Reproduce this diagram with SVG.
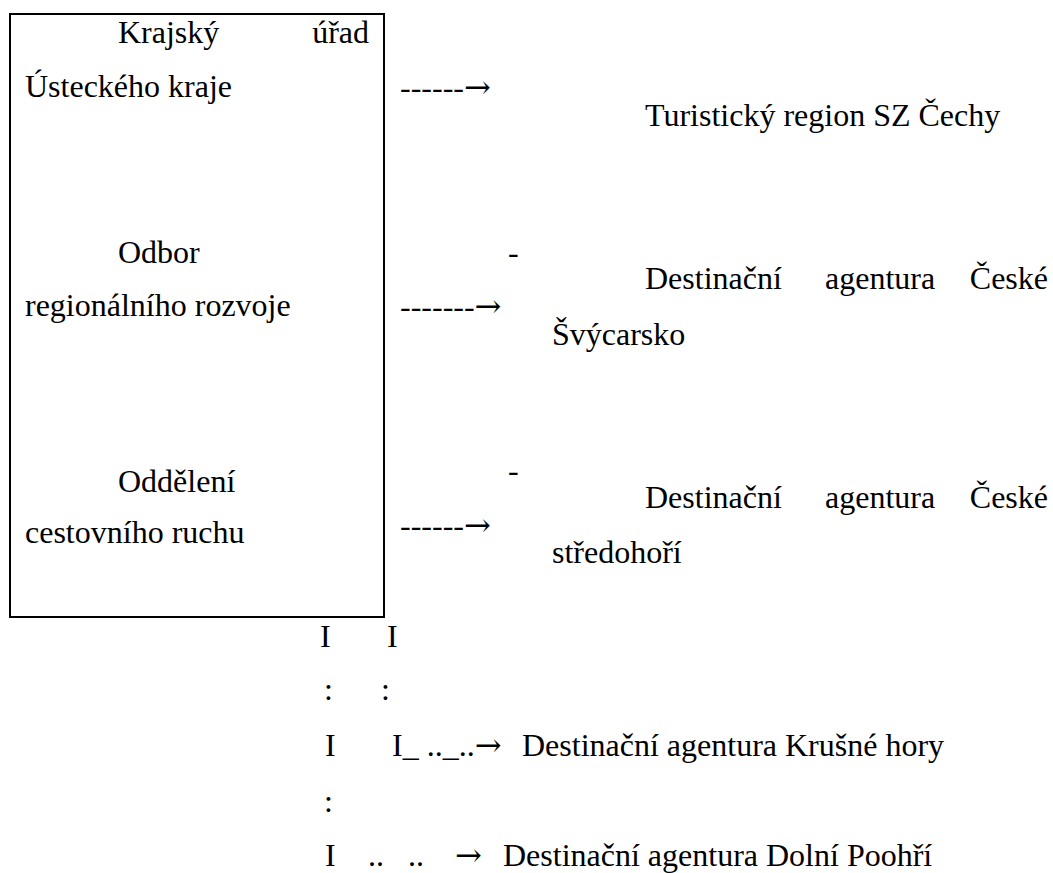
<svg xmlns="http://www.w3.org/2000/svg" width="1053" height="873" viewBox="0 0 1053 873">
<style>
text{font-family:"Liberation Serif","Times New Roman",serif;font-size:32px;fill:#000}
.end{text-anchor:end}
.arr{font-family:"DejaVu Serif","Liberation Serif",serif}
.box{fill:none;stroke:#000;stroke-width:2}
</style>
<rect width="1053" height="873" fill="#fff"/>
<g id="node-krajsky-urad">
<rect class="box" x="10" y="14" width="374" height="603"/>
<text x="118" y="43">Krajský</text>
<text class="end" x="369" y="43">úřad</text>
<text x="25" y="97">Ústeckého kraje</text>
<text x="118" y="263">Odbor</text>
<text x="25" y="316">regionálního rozvoje</text>
<text x="118" y="492">Oddělení</text>
<text x="25" y="543">cestovního ruchu</text>
</g>
<g id="node-turisticky-region">
<text x="645" y="126">Turistický region SZ Čechy</text>
</g>
<g id="node-da-ceske-svycarsko">
<text x="645" y="289">Destinační</text>
<text x="825" y="289">agentura</text>
<text class="end" x="1048" y="289">České</text>
<text x="552" y="345">Švýcarsko</text>
</g>
<g id="node-da-ceske-stredohori">
<text x="645" y="508">Destinační</text>
<text x="825" y="508">agentura</text>
<text class="end" x="1048" y="508">České</text>
<text x="552" y="563">středohoří</text>
</g>
<g id="node-da-krusne-hory">
<text x="522" y="756">Destinační agentura Krušné hory</text>
</g>
<g id="node-da-dolni-poohri">
<text x="503" y="866">Destinační agentura Dolní Poohří</text>
</g>
<g id="connectors">
<text x="400" y="98">------<tspan class="arr">→</tspan></text>
<text x="508" y="263">-</text>
<text x="400" y="317">-------<tspan class="arr">→</tspan></text>
<text x="508" y="481">-</text>
<text x="400" y="536">------<tspan class="arr">→</tspan></text>
<text x="320" y="647">I</text>
<text x="387" y="647">I</text>
<text x="324" y="700">:</text>
<text x="381" y="700">:</text>
<text x="325" y="756">I</text>
<text x="392" y="756">I_ .._..<tspan class="arr">→</tspan></text>
<text x="324" y="812">:</text>
<text x="325" y="866">I</text>
<text x="368" y="866">..</text>
<text x="408" y="866">..</text>
<text class="arr" x="455" y="866">→</text>
</g>
</svg>
